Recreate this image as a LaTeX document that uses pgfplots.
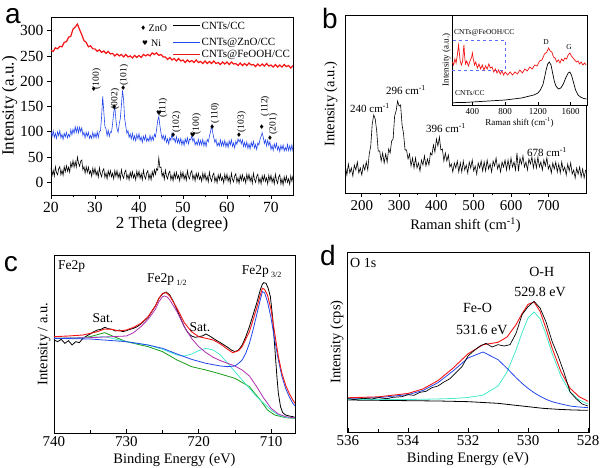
\documentclass[border=0pt]{standalone}
\usepackage{pgfplots}
\pgfplotsset{compat=1.18}
\usepackage{fontspec}
\setmainfont{Liberation Serif}
\newfontfamily\symf{DejaVu Sans}
\newfontfamily\letf{Liberation Sans}
\definecolor{cblue}{RGB}{35,70,235}
\definecolor{cred}{RGB}{245,20,20}
\definecolor{ccyan}{RGB}{70,235,205}
\definecolor{cmag}{RGB}{175,45,175}
\definecolor{cgreen}{RGB}{25,155,25}
\definecolor{cdash}{RGB}{90,110,255}
\newcommand{\fs}[1]{\fontsize{#1}{#1}\selectfont}
\pgfplotsset{
 pan/.style={scale only axis, anchor=south west,
   axis line style={line width=0.9pt},
   every tick/.style={black, line width=0.7pt},
   major tick length=4pt, minor tick length=2.5pt,
   tick label style={font=\fs{15}},
   label style={font=\fs{14.5}},
   /pgf/number format/assume math mode=true,
   /pgf/number format/1000 sep={},
   xtick pos=left, ytick pos=left},
}
\begin{document}
\begin{tikzpicture}[x=1pt,y=1pt]
\useasboundingbox (0,0) rectangle (600,468);
% ---------------- panel a
\begin{axis}[pan, at={(51pt,273pt)}, width=242pt, height=178pt,
  xmin=20, xmax=75, ymin=-25, ymax=327,
  xtick={20,30,...,70}, ytick={0,50,...,300}, minor x tick num=1,
  tick align=outside,
  tick label style={font=\fs{15.5}}, label style={font=\fs{17}},
  xlabel={2 Theta (degree)}, ylabel={Intensity (a.u.)},
  xlabel style={yshift=3pt}, ylabel shift=-4pt]
\addplot[black, line width=0.6pt] coordinates {
(20.00,28)(20.25,14)(20.50,24)(20.75,12)(21.00,31)(21.25,19)(21.50,15)(21.75,27)(22.00,31)(22.25,15)
(22.50,24)(22.75,14)(23.00,31)(23.25,21)(23.50,33)(23.75,22)(24.00,30)(24.25,20)(24.50,39)(24.75,30)
(25.00,43)(25.25,30)(25.50,41)(25.75,30)(26.00,50)(26.25,38)(26.50,32)(26.75,42)(27.00,44)(27.25,25)
(27.50,31)(27.75,18)(28.00,31)(28.25,20)(28.50,30)(28.75,17)(29.00,23)(29.25,12)(29.50,28)(29.75,17)
(30.00,28)(30.25,14)(30.50,22)(30.75,10)(31.00,29)(31.25,17)(31.50,11)(31.75,23)(32.00,27)(32.25,10)
(32.50,18)(32.75,7)(33.00,23)(33.25,13)(33.50,23)(33.75,11)(34.00,18)(34.25,7)(34.50,23)(34.75,12)
(35.00,23)(35.25,9)(35.50,18)(35.75,6)(36.00,25)(36.25,13)(36.50,8)(36.75,20)(37.00,24)(37.25,7)
(37.50,15)(37.75,5)(38.00,20)(38.25,10)(38.50,21)(38.75,9)(39.00,16)(39.25,5)(39.50,22)(39.75,11)
(40.00,22)(40.25,8)(40.50,17)(40.75,5)(41.00,24)(41.25,12)(41.50,7)(41.75,19)(42.00,23)(42.25,6)
(42.50,16)(42.75,5)(43.00,21)(43.25,12)(43.50,25)(43.75,16)(44.00,27)(44.25,24)(44.50,48)(44.75,29)
(45.00,30)(45.25,12)(45.50,19)(45.75,6)(46.00,24)(46.25,12)(46.50,7)(46.75,18)(47.00,22)(47.25,5)
(47.50,14)(47.75,3)(48.00,19)(48.25,8)(48.50,20)(48.75,8)(49.00,14)(49.25,3)(49.50,20)(49.75,9)
(50.00,20)(50.25,6)(50.50,15)(50.75,4)(51.00,23)(51.25,11)(51.50,7)(51.75,19)(52.00,23)(52.25,6)
(52.50,14)(52.75,3)(53.00,18)(53.25,8)(53.50,18)(53.75,6)(54.00,12)(54.25,2)(54.50,18)(54.75,7)
(55.00,18)(55.25,4)(55.50,12)(55.75,1)(56.00,20)(56.25,8)(56.50,2)(56.75,14)(57.00,18)(57.25,1)
(57.50,10)(57.75,-1)(58.00,15)(58.25,5)(58.50,16)(58.75,4)(59.00,10)(59.25,-1)(59.50,16)(59.75,5)
(60.00,16)(60.25,2)(60.50,11)(60.75,-1)(61.00,18)(61.25,6)(61.50,1)(61.75,13)(62.00,17)(62.25,0)
(62.50,9)(62.75,-2)(63.00,14)(63.25,4)(63.50,15)(63.75,3)(64.00,10)(64.25,-1)(64.50,16)(64.75,5)
(65.00,16)(65.25,2)(65.50,11)(65.75,-2)(66.00,18)(66.25,6)(66.50,0)(66.75,12)(67.00,16)(67.25,-1)
(67.50,8)(67.75,-3)(68.00,13)(68.25,3)(68.50,14)(68.75,2)(69.00,9)(69.25,-3)(69.50,14)(69.75,3)
(70.00,14)(70.25,0)(70.50,9)(70.75,-3)(71.00,16)(71.25,4)(71.50,-2)(71.75,11)(72.00,15)(72.25,-3)
(72.50,7)(72.75,-5)(73.00,11)(73.25,1)(73.50,12)(73.75,0)(74.00,7)(74.25,-4)(74.50,13)(74.75,2)(75.00,13)};
\addplot[cblue, line width=0.6pt] coordinates {
(20.00,100)(20.25,91)(20.50,102)(20.75,89)(21.00,97)(21.25,87)(21.50,100)(21.75,92)(22.00,102)(22.25,88)
(22.50,95)(22.75,85)(23.00,97)(23.25,90)(23.50,99)(23.75,88)(24.00,95)(24.25,90)(24.50,104)(24.75,94)
(25.00,105)(25.25,97)(25.50,110)(25.75,99)(26.00,109)(26.25,98)(26.50,109)(26.75,100)(27.00,108)(27.25,93)
(27.50,99)(27.75,88)(28.00,99)(28.25,91)(28.50,99)(28.75,87)(29.00,93)(29.25,87)(29.50,99)(29.75,88)
(30.00,97)(30.25,88)(30.50,100)(30.75,89)(31.00,101)(31.25,102)(31.50,130)(31.75,170)(32.00,140)(32.25,110)
(32.50,106)(32.75,92)(33.00,103)(33.25,91)(33.50,100)(33.75,99)(34.00,116)(34.25,138)(34.50,150)(34.75,124)
(35.00,106)(35.25,99)(35.50,115)(35.75,126)(36.00,152)(36.25,182)(36.50,163)(36.75,125)(37.00,111)(37.25,97)
(37.50,102)(37.75,89)(38.00,96)(38.25,86)(38.50,97)(38.75,84)(39.00,92)(39.25,82)(39.50,95)(39.75,86)
(40.00,96)(40.25,83)(40.50,90)(40.75,79)(41.00,91)(41.25,84)(41.50,93)(41.75,81)(42.00,87)(42.25,81)
(42.50,93)(42.75,82)(43.00,91)(43.25,83)(43.50,95)(43.75,90)(44.00,105)(44.25,122)(44.50,130)(44.75,112)
(45.00,98)(45.25,86)(45.50,93)(45.75,83)(46.00,92)(46.25,79)(46.50,86)(46.75,76)(47.00,88)(47.25,83)
(47.50,97)(47.75,84)(48.00,87)(48.25,79)(48.50,90)(48.75,78)(49.00,86)(49.25,77)(49.50,87)(49.75,74)
(50.00,83)(50.25,73)(50.50,86)(50.75,78)(51.00,88)(51.25,76)(51.50,86)(51.75,84)(52.00,92)(52.25,81)
(52.50,87)(52.75,74)(53.00,80)(53.25,74)(53.50,85)(53.75,74)(54.00,83)(54.25,74)(54.50,85)(54.75,72)
(55.00,81)(55.25,71)(55.50,85)(55.75,80)(56.00,91)(56.25,100)(56.50,112)(56.75,99)(57.00,88)(57.25,79)
(57.50,85)(57.75,72)(58.00,78)(58.25,72)(58.50,84)(58.75,72)(59.00,81)(59.25,72)(59.50,83)(59.75,70)
(60.00,79)(60.25,69)(60.50,82)(60.75,74)(61.00,84)(61.25,71)(61.50,78)(61.75,68)(62.00,81)(62.25,75)
(62.50,86)(62.75,80)(63.00,85)(63.25,76)(63.50,84)(63.75,71)(64.00,79)(64.25,70)(64.50,80)(64.75,67)
(65.00,76)(65.25,66)(65.50,79)(65.75,71)(66.00,81)(66.25,68)(66.50,75)(66.75,65)(67.00,78)(67.25,74)
(67.50,85)(67.75,91)(68.00,98)(68.25,89)(68.50,77)(68.75,84)(69.00,72)(69.25,83)(69.50,73)(69.75,80)
(70.00,65)(70.25,73)(70.50,63)(70.75,76)(71.00,68)(71.25,77)(71.50,64)(71.75,71)(72.00,61)(72.25,73)
(72.50,65)(72.75,74)(73.00,62)(73.25,69)(73.50,63)(73.75,75)(74.00,63)(74.25,72)(74.50,63)(74.75,74)(75.00,61)};
\addplot[cred, line width=1.2pt] coordinates {
(20.0,261)(20.5,259)(21.0,266)(21.5,264)(22.0,269)(22.5,268)(23.0,277)(23.5,278)(24.0,287)(24.5,289)
(25.0,303)(25.5,307)(26.0,313)(26.5,302)(27.0,292)(27.5,280)(28.0,277)(28.5,268)(29.0,270)(29.5,264)
(30.0,264)(30.5,259)(31.0,262)(31.5,257)(32.0,260)(32.5,255)(33.0,259)(33.5,254)(34.0,255)(34.5,250)
(35.0,254)(35.5,250)(36.0,253)(36.5,248)(37.0,253)(37.5,248)(38.0,250)(38.5,246)(39.0,251)(39.5,247)
(40.0,251)(40.5,247)(41.0,253)(41.5,250)(42.0,253)(42.5,250)(43.0,256)(43.5,253)(44.0,256)(44.5,251)
(45.0,253)(45.5,248)(46.0,248)(46.5,243)(47.0,247)(47.5,242)(48.0,245)(48.5,240)(49.0,245)(49.5,240)
(50.0,242)(50.5,237)(51.0,242)(51.5,238)(52.0,241)(52.5,237)(53.0,242)(53.5,237)(54.0,239)(54.5,235)
(55.0,240)(55.5,235)(56.0,239)(56.5,235)(57.0,240)(57.5,235)(58.0,237)(58.5,233)(59.0,238)(59.5,234)
(60.0,238)(60.5,233)(61.0,238)(61.5,234)(62.0,235)(62.5,231)(63.0,236)(63.5,231)(64.0,235)(64.5,231)
(65.0,236)(65.5,232)(66.0,233)(66.5,229)(67.0,234)(67.5,230)(68.0,234)(68.5,230)(69.0,235)(69.5,230)
(70.0,232)(70.5,228)(71.0,233)(71.5,228)(72.0,232)(72.5,228)(73.0,233)(73.5,229)(74.0,231)(74.5,226)(75.0,231)};
\end{axis}
% annotations a
\begin{scope}[every node/.style={font=\fs{9.5}, inner sep=0pt}]
\node[rotate=90] at (96.7,389) {(100)};
\node[rotate=90] at (115,369) {(002)};
\node[rotate=90] at (124,393) {(101)};
\node[rotate=90] at (163,360) {(111)};
\node[rotate=90] at (176.7,346) {(102)};
\node[rotate=90] at (196.7,344) {(100)};
\node[rotate=90] at (215,355) {(110)};
\node[rotate=90] at (241.7,346) {(103)};
\node[rotate=90] at (265,362) {(112)};
\node[rotate=90] at (273.3,344) {(201)};
\end{scope}
\begin{scope}[every node/.style={font=\symf\fs{6.5}, inner sep=0pt}]
\node at (93.7,378.7) {♦};
\node at (114.3,361.3) {♦};
\node at (123.3,379.7) {♦};
\node at (159,355) {♥};
\node at (173.3,333) {♦};
\node at (192.7,333) {♥};
\node at (212.3,341.3) {♦};
\node at (239,333) {♦};
\node at (261.7,341.3) {♦};
\node at (270,330.3) {♦};
\node at (143.3,439.7) {♦};
\node at (145,425) {♥};
\end{scope}
\node[font=\fs{10}, anchor=west, inner sep=0pt] at (148.5,439.7) {ZnO};
\node[font=\fs{10}, anchor=west, inner sep=0pt] at (151,425) {Ni};
\draw[black, line width=1pt] (173.3,442) -- (200,442);
\draw[cblue, line width=1pt] (173.3,425.3) -- (200,425.3);
\draw[cred, line width=1pt] (173.3,413) -- (200,413);
\node[font=\fs{11}, anchor=west, inner sep=0pt] at (201.5,442) {CNTs/CC};
\node[font=\fs{11}, anchor=west, inner sep=0pt] at (201.5,425.3) {CNTs@ZnO/CC};
\node[font=\fs{11}, anchor=west, inner sep=0pt] at (201.5,413) {CNTs@FeOOH/CC};
% ---------------- panel b
\begin{axis}[pan, at={(345pt,275pt)}, width=241pt, height=178pt,
  xmin=155, xmax=801, ymin=0, ymax=178,
  xtick={200,300,...,700}, ytick=\empty, minor x tick num=1,
  tick align=outside,
  xlabel={Raman shift (cm\textsuperscript{-1})}, ylabel={Intensity (a.u.)}]
\addplot[black, line width=0.6pt] coordinates {
(156,27)(160,18)(164,29)(168,20)(172,25)(176,17)(180,28)(184,23)(188,31)(192,20)(196,25)(200,18)
(204,28)(208,23)(212,31)(216,23)(220,39)(224,47)(228,69)(232,78)(236,74)(240,62)(244,42)(248,42)
(252,32)(256,40)(260,30)(264,39)(268,31)(272,44)(276,40)(280,52)(284,54)(288,77)(292,82)(296,92)
(300,87)(304,88)(308,68)(312,59)(316,43)(320,43)(324,34)(328,39)(332,27)(336,35)(340,25)(344,35)
(348,25)(352,30)(356,22)(360,33)(364,28)(368,37)(372,27)(376,34)(380,28)(384,40)(388,38)(392,48)
(396,41)(400,54)(404,47)(408,56)(412,43)(416,44)(420,32)(424,40)(428,32)(432,38)(436,26)(440,29)
(444,21)(448,30)(452,25)(456,32)(460,21)(464,30)(468,21)(472,32)(476,23)(480,28)(484,20)(488,31)
(492,25)(496,33)(500,22)(504,27)(508,19)(512,30)(516,25)(520,32)(524,22)(528,31)(532,22)(536,33)
(540,24)(544,29)(548,21)(552,32)(556,27)(560,35)(564,24)(568,29)(572,21)(576,31)(580,26)(584,33)
(588,23)(592,33)(596,24)(600,35)(604,26)(608,31)(612,23)(616,40)(620,22)(624,35)(628,29)(632,37)
(636,26)(640,31)(644,23)(648,34)(652,29)(656,36)(660,25)(664,34)(668,25)(672,36)(676,26)(680,31)
(684,23)(688,33)(692,27)(696,35)(700,24)(704,28)(708,20)(712,30)(716,24)(720,31)(724,21)(728,29)
(732,20)(736,31)(740,22)(744,26)(748,18)(752,29)(756,22)(760,30)(764,19)(768,23)(772,15)(776,25)
(780,19)(784,26)(788,16)(792,24)(796,15)(800,23)};
\end{axis}
\begin{scope}[every node/.style={font=\fs{11}, inner sep=0pt}]
\node at (370,360) {240 cm\textsuperscript{-1}};
\node at (406,378) {296 cm\textsuperscript{-1}};
\node at (446,340) {396 cm\textsuperscript{-1}};
\node at (547,316) {678 cm\textsuperscript{-1}};
\end{scope}
% inset
\begin{axis}[pan, at={(452pt,363pt)}, width=135pt, height=90pt,
  axis background/.style={fill=white},
  axis line style={line width=0.7pt},
  xmin=150, xmax=1800, ymin=0, ymax=90,
  xtick={400,800,1200,1600}, ytick=\empty,
  tick align=inside, major tick length=2.5pt,
  tick label style={font=\fs{9}}, label style={font=\fs{9}},
  xlabel={Raman shift (cm\textsuperscript{-1})}, ylabel={Intensity (a.u.)},
  xlabel style={yshift=4pt}, ylabel style={yshift=-2pt}]
\addplot[cdash, dashed, line width=0.6pt] coordinates {(152,35)(800,35)(800,65)(152,65)};
\addplot[cred, line width=0.7pt] coordinates {
(155,43)(170,40)(185,46)(200,42)(215,50)(230,60)(240,52)(250,44)(265,40)(280,44)(290,55)(296,60)
(305,48)(315,41)(330,44)(350,39)(370,44)(390,48)(400,52)(410,46)(425,40)(440,43)(460,37)(480,41)
(500,36)(520,40)(540,35)(560,39)(580,36)(600,41)(620,37)(640,38)(660,33)(680,36)(700,32)(720,35)
(740,31)(760,34)(780,30)(800,33)(830,30)(860,33)(890,30)(920,33)(950,31)(980,35)(1010,32)(1040,36)
(1070,34)(1100,38)(1130,36)(1160,40)(1190,39)(1220,44)(1250,45)(1280,51)(1310,53)(1330,57)(1350,54)
(1370,53)(1390,48)(1410,47)(1430,43)(1450,45)(1470,42)(1490,46)(1510,44)(1530,47)(1550,46)(1570,50)
(1590,52)(1610,49)(1630,47)(1650,45)(1670,43)(1690,44)(1710,41)(1730,43)(1750,40)(1770,42)(1790,40)};
\addplot[black, line width=0.7pt] coordinates {
(155,2)(200,2.5)(300,2.5)(400,3)(500,3.5)(600,4)(700,4.5)(800,5)(900,6)(1000,7)(1100,9)(1150,10)
(1200,12)(1230,15)(1260,20)(1280,27)(1300,35)(1320,41)(1340,43)(1360,40)(1380,32)(1400,24)
(1420,19)(1450,16)(1480,17)(1510,21)(1540,27)(1570,32)(1590,33)(1610,30)(1630,24)(1660,15)
(1690,10)(1720,8)(1760,6.5)(1795,6)};
\end{axis}
\begin{scope}[every node/.style={font=\fs{7.5}, inner sep=0pt}]
\node[anchor=west] at (454,435) {CNTs@FeOOH/CC};
\node[anchor=west] at (455,375) {CNTs/CC};
\node at (546,426) {D};
\node at (569,421) {G};
\end{scope}
% ---------------- panel c
\begin{axis}[pan, at={(54pt,35pt)}, width=241pt, height=178pt,
  xmin=706.7, xmax=740, x dir=reverse, ymin=0, ymax=534,
  xtick={710,720,730,740}, ytick=\empty, minor x tick num=1,
  tick align=inside,
  xlabel={Binding Energy (eV)}, ylabel={Intensity / a.u.}]
\addplot[black, line width=0.8pt] coordinates {
(740,279)(739.5,274)(739,281)(738.5,269)(738,277)(737.5,264)(737,274)(736.5,271)(736,284)(735.5,291)
(735,297)(734.5,304)(734,309)(733.5,311)(733,317)(732.5,313)(732,311)(731.5,306)(731,309)(730.5,304)
(730,307)(729.5,311)(729,314)(728.5,319)(728,327)(727.5,337)(727,347)(726.5,364)(726,381)(725.5,404)
(725,417)(724.5,423)(724,414)(723.5,394)(723,369)(722.5,344)(722,319)(721.5,301)(721,291)(720.5,287)
(720,289)(719.5,291)(719,297)(718.5,291)(718,284)(717.5,277)(717,271)(716.5,264)(716,257)(715.5,249)
(715,244)(714.5,249)(714,264)(713.5,289)(713,319)(712.5,354)(712,389)(711.5,429)(711.2,447)(711,451)
(710.7,449)(710.4,434)(710.1,409)(709.8,349)(709.5,259)(709.2,169)(709,119)(708.7,79)(708.4,61)
(708,54)(707.5,51)(707,49)(706.7,47)};
\addplot[cgreen, line width=0.8pt] coordinates {
(740,284)(737,284)(735,289)(733,301)(731.5,287)(730,274)(727,259)(725,244)(723,219)(721,199)(719,189)
(717,177)(715,164)(713,139)(711.5,99)(710.5,69)(709.5,54)(708,46)(706.7,44)};
\addplot[ccyan, line width=0.8pt] coordinates {
(740,284)(735,287)(733,289)(730,274)(727,264)(725,251)(723,234)(722,231)(721,237)(720,247)(719,254)
(718,249)(717,234)(716,209)(715,184)(714,159)(713,134)(712,109)(711,89)(710,69)(709,54)(708,47)(706.7,44)};
\addplot[cmag, line width=0.8pt] coordinates {
(740,284)(735,286)(732,289)(730,291)(729,301)(728,319)(727,341)(726,371)(725.5,394)(725,409)(724.7,411)
(724.3,407)(724,399)(723,364)(722,319)(721,284)(720,259)(719,241)(718,227)(717,217)(716,209)(715,201)
(714,189)(713,171)(712,139)(711,104)(710,74)(709,57)(708,49)(706.7,45)};
\addplot[cblue, line width=0.8pt] coordinates {
(740,284)(735,282)(730,274)(727,264)(725,254)(723,237)(721,221)(719,209)(717,201)(716,199)(715,201)
(714.5,209)(714,219)(713.5,239)(713,269)(712.5,309)(712,354)(711.5,399)(711.2,424)(710.9,421)
(710.5,394)(710,344)(709.5,279)(709,219)(708.5,169)(708,134)(707.5,109)(707,89)(706.7,81)};
\addplot[cred, line width=0.9pt] coordinates {
(740,289)(738,291)(736,294)(734,304)(733,312)(732,311)(731,306)(730,309)(729,317)(728,329)(727,349)
(726,381)(725.5,404)(725,419)(724.5,421)(724,411)(723,374)(722,331)(721,304)(720,289)(719,284)(718,279)
(717,267)(716,251)(715.3,241)(714.5,247)(714,259)(713,304)(712,374)(711.5,414)(711.2,434)(710.9,431)
(710.5,414)(710,369)(709.5,299)(709,229)(708.5,179)(708,144)(707.5,119)(707,99)(706.7,89)};
\end{axis}
\begin{scope}[every node/.style={font=\fs{13.5}, inner sep=0pt}]
\node[anchor=west] at (58,201.3) {Fe2p};
\node[anchor=west] at (147,188) {Fe2p\,\raisebox{-3pt}{\fs{8}1/2}};
\node[anchor=west] at (241.7,196.3) {Fe2p\,\raisebox{-3pt}{\fs{8}3/2}};
\node at (103,150) {Sat.};
\node at (200,141.3) {Sat.};
\end{scope}
% ---------------- panel d
\begin{axis}[pan, at={(347pt,36pt)}, width=242pt, height=180pt,
  xmin=527.97, xmax=536.03, x dir=reverse, ymin=0, ymax=540,
  xtick={528,530,...,536}, ytick=\empty, minor x tick num=1,
  tick align=inside,
  xlabel={Binding Energy (eV)}, ylabel={Intensity (cps)}]
\addplot[black, line width=0.8pt] coordinates {
(536,96)(535,95)(534,94)(533,93)(532,91)(531,86)(530.5,81)(530,76)(529.5,71)(529,68)(528.5,66)(528,65)};
\addplot[ccyan, line width=0.8pt] coordinates {
(536,97.7)(535,97.4)(534,97.6)(533.5,98.2)(533,99.2)(532.5,100.5)(532,103.5)(531.5,110.8)(531,138)
(530.7,180)(530.4,246)(530.2,298)(530,342)(529.8,360)(529.6,340)(529.4,292)(529.2,236)(528.9,166)
(528.6,120)(528.3,96)(528,84)};
\addplot[cblue, line width=0.8pt] coordinates {
(536,101)(535,103)(534,112)(533.5,124.5)(533,148)(532.5,183)(532,222)(531.5,240)(531,217)(530.7,191)
(530.4,163)(530.2,146)(530,131)(529.8,118)(529.6,107)(529.4,98)(529.2,91)(528.9,84)(528.6,78)(528.3,75)(528,73)};
\addplot[cred, line width=0.9pt] coordinates {
(536,102.7)(535,105.4)(534,115.6)(533.5,129.2)(533,154.2)(532.5,191.5)(532,234.5)(531.5,261.8)(531,269)
(530.7,285)(530.4,322)(530.2,355)(530,383)(529.8,390)(529.6,362)(529.4,310)(529.2,252)(528.9,180)
(528.6,131)(528.3,106)(528,92)};
\addplot[black, line width=0.7pt] coordinates {
(536,100)(535.8,97)(535.5,101)(535.2,99)(535,103)(534.7,100)(534.5,104)(534.2,106)(534,112)(533.8,110)
(533.6,119)(533.4,122)(533.2,133)(533,138)(532.8,150)(532.6,160)(532.4,178)(532.2,196)(532,228)
(531.8,244)(531.6,258)(531.4,266)(531.2,255)(531,262)(530.8,258)(530.6,262)(530.4,296)(530.2,352)
(530,376)(529.8,392)(529.6,372)(529.4,330)(529.2,272)(529,228)(528.8,178)(528.6,120)(528.4,100)
(528.2,84)(528,78)};
\end{axis}
\begin{scope}[every node/.style={font=\fs{14}, inner sep=0pt}]
\node[anchor=west] at (350,204.7) {O 1s};
\node at (541.7,196.3) {O-H};
\node at (540,176.3) {529.8 eV};
\node at (477.5,160) {Fe-O};
\node at (481.7,138) {531.6 eV};
\end{scope}
% panel letters
\begin{scope}[every node/.style={font=\letf\fs{28}, inner sep=0pt}]
\node at (13,451.5) {a};
\node at (330,450) {b};
\node at (11,204) {c};
\node at (328,213) {d};
\end{scope}
\end{tikzpicture}
\end{document}
